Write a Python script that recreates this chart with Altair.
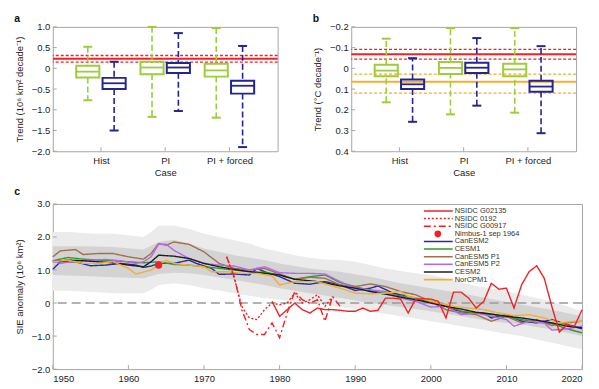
import json
import altair as alt
import pandas as pd

# ---------------- panels a / b : box statistics ----------------
cases = ["Hist", "PI", "PI + forced"]

# panel a: Arctic sea-ice extent trend (10^6 km^2 / decade)
a_g_lo = [-0.77, -1.17, -1.19]
a_g_q1 = [-0.22, -0.14, -0.20]
a_g_med = [-0.08, 0.02, -0.05]
a_g_q3 = [0.06, 0.16, 0.11]
a_g_hi = [0.52, 1.00, 0.97]
a_b_lo = [-1.50, -1.03, -1.90]
a_b_q1 = [-0.50, -0.11, -0.61]
a_b_med = [-0.36, 0.02, -0.42]
a_b_q3 = [-0.23, 0.13, -0.30]
a_b_hi = [0.16, 0.85, 0.54]
a_obs = [0.23]
a_obs_range = [0.15, 0.31]

# panel b: temperature trend (degC / decade), axis reversed
b_g_lo = [-0.143, -0.194, -0.194]
b_g_q1 = [-0.017, -0.030, -0.022]
b_g_med = [0.011, -0.002, 0.005]
b_g_q3 = [0.038, 0.027, 0.038]
b_g_hi = [0.164, 0.222, 0.214]
b_b_lo = [-0.049, -0.146, -0.107]
b_b_q1 = [0.054, -0.027, 0.060]
b_b_med = [0.077, -0.003, 0.088]
b_b_q3 = [0.100, 0.022, 0.113]
b_b_hi = [0.258, 0.180, 0.313]
b_obs_red = [-0.068]
b_obs_red_range = [-0.091, -0.044]
b_obs_orange = [0.065]
b_obs_orange_range = [0.028, 0.120]

# ---------------- panel c : time series ----------------
band_out_years = [1950, 1952, 1954, 1956, 1958, 1960, 1962, 1963, 1964, 1966, 1968, 1970, 1972, 1974, 1976,
                  1978, 1980, 1982, 1984, 1986, 1988, 1990, 1992, 1994, 1996, 1998, 2000, 2002, 2004, 2006,
                  2008, 2010, 2012, 2014, 2016, 2018, 2020]
band_out_hi = [2.15, 2.15, 2.12, 2.1, 2.1, 2.05, 2.0, 2.15, 2.35, 2.35, 2.25, 2.1, 2.0, 1.9, 1.8,
               1.65, 1.55, 1.45, 1.37, 1.32, 1.3, 1.25, 1.15, 1.05, 0.97, 0.9, 0.85, 0.75, 0.62, 0.52,
               0.45, 0.35, 0.25, 0.15, 0.05, -0.1, -0.25]
band_out_lo = [0.38, 0.37, 0.35, 0.33, 0.3, 0.3, 0.3, 0.4, 0.55, 0.6, 0.55, 0.45, 0.38, 0.3, 0.22,
               0.15, 0.1, 0.05, 0.0, -0.05, -0.12, -0.18, -0.25, -0.32, -0.4, -0.47, -0.55, -0.62, -0.7, -0.77,
               -0.85, -0.93, -1.0, -1.1, -1.2, -1.3, -1.4]

band_in_years = [1950, 1954, 1958, 1962, 1964, 1966, 1968, 1970, 1974, 1978, 1980, 1984, 1988, 1992, 1996,
                 2000, 2004, 2008, 2012, 2016, 2020]
band_in_hi = [1.72, 1.72, 1.7, 1.62, 1.85, 1.92, 1.8, 1.65, 1.45, 1.3, 1.2, 1.05, 0.95, 0.8, 0.6,
              0.45, 0.3, 0.12, -0.05, -0.2, -0.4]
band_in_lo = [0.85, 0.82, 0.78, 0.75, 0.88, 0.92, 0.9, 0.85, 0.7, 0.55, 0.45, 0.3, 0.15, 0.0, -0.12,
              -0.25, -0.4, -0.55, -0.65, -0.8, -1.0]

canesm2_years = [1950, 1951, 1953, 1955, 1957, 1959, 1961, 1962, 1963, 1964, 1966, 1968, 1969, 1971, 1972,
                 1974, 1976, 1977, 1978, 1980, 1982, 1984, 1986, 1988, 1990, 1992, 1993, 1995, 1997, 1999,
                 2001, 2003, 2005, 2007, 2008, 2010, 2012, 2014, 2016, 2018, 2020]
canesm2 = [1.02, 1.25, 1.25, 1.13, 1.15, 1.2, 1.15, 1.08, 1.12, 1.2, 1.2, 1.3, 1.2, 1.05, 0.87,
           0.88, 0.85, 1.05, 0.95, 0.8, 0.6, 0.57, 0.65, 0.55, 0.38, 0.45, 0.52, 0.3, 0.2, 0.08,
           0.0, -0.2, -0.3, -0.3, -0.45, -0.35, -0.55, -0.6, -0.5, -0.65, -0.78]

cesm1_years = list(range(1950, 2021, 2))
cesm1 = [1.28, 1.38, 1.33, 1.3, 1.28, 1.25, 1.22, 1.25, 1.17, 1.15, 1.1, 1.05, 1.0, 0.95, 0.93,
         0.85, 0.72, 0.8, 0.85, 0.62, 0.5, 0.38, 0.3, 0.22, 0.15, 0.05, -0.05, -0.25, -0.3, -0.35,
         -0.42, -0.5, -0.58, -0.62, -0.78, -0.9]

canesm5p1_years = [1950, 1951, 1953, 1954, 1956, 1958, 1960, 1962, 1963, 1964, 1965, 1966, 1968, 1970, 1972,
                   1974, 1976, 1978, 1980, 1982, 1984, 1986, 1988, 1990, 1992, 1994, 1996, 1998, 2000, 2002,
                   2004, 2006, 2008, 2010, 2012, 2014, 2016, 2018, 2020]
canesm5p1 = [1.4, 1.58, 1.62, 1.47, 1.5, 1.5, 1.4, 1.33, 1.5, 1.8, 1.75, 1.85, 1.78, 1.55, 1.2,
             1.05, 1.0, 1.05, 0.88, 0.72, 0.78, 0.75, 0.55, 0.5, 0.58, 0.5, 0.35, 0.25, 0.05, -0.2,
             -0.3, -0.35, -0.55, -0.4, -0.6, -0.5, -0.68, -0.6, -0.55]

canesm5p2_years = [1950, 1951, 1953, 1955, 1957, 1959, 1961, 1962, 1963, 1964, 1965, 1966, 1968, 1970, 1972,
                   1974, 1976, 1978, 1980, 1982, 1984, 1986, 1988, 1990, 1992, 1994, 1996, 1998, 2000, 2002,
                   2004, 2006, 2008, 2010, 2011, 2013, 2015, 2016, 2018, 2020]
canesm5p2 = [1.3, 1.2, 1.28, 1.3, 1.32, 1.28, 1.2, 1.25, 1.4, 1.78, 1.78, 1.6, 1.35, 1.2, 1.15,
             1.12, 1.0, 1.1, 0.92, 0.9, 0.9, 0.88, 0.65, 0.45, 0.4, 0.35, 0.15, 0.05, -0.12, -0.1,
             -0.35, -0.3, -0.4, -0.5, -0.7, -0.55, -0.6, -0.82, -0.78, -0.7]

cesm2_years = [1950, 1952, 1954, 1956, 1958, 1960, 1962, 1963, 1964, 1966, 1968, 1970, 1972, 1974, 1976,
               1978, 1980, 1982, 1985, 1988, 1990, 1992, 1994, 1996, 1998, 2000, 2002, 2004, 2006, 2008,
               2010, 2012, 2014, 2016, 2018, 2020]
cesm2 = [1.25, 1.3, 1.28, 1.25, 1.22, 1.15, 1.1, 1.25, 1.45, 1.42, 1.35, 1.2, 1.1, 1.02, 0.95,
         0.9, 0.85, 0.72, 0.65, 0.52, 0.45, 0.35, 0.27, 0.18, 0.1, 0.0, -0.1, -0.18, -0.28, -0.33,
         -0.4, -0.45, -0.52, -0.6, -0.7, -0.75]

norcpm1_years = [1950, 1952, 1954, 1956, 1958, 1960, 1961, 1963, 1964, 1965, 1966, 1968, 1970, 1971, 1973,
                 1975, 1977, 1979, 1980, 1982, 1985, 1988, 1990, 1992, 1994, 1996, 1997, 1999, 2001, 2003,
                 2005, 2007, 2009, 2011, 2013, 2015, 2017, 2019, 2020]
norcpm1 = [1.25, 1.3, 1.2, 1.2, 1.25, 1.05, 0.88, 1.0, 1.15, 1.3, 1.2, 1.15, 1.1, 0.95, 0.95,
           0.9, 0.9, 0.82, 0.55, 0.65, 0.65, 0.45, 0.3, 0.28, 0.3, 0.35, 0.2, 0.12, 0.0, -0.1,
           -0.15, -0.2, -0.3, -0.38, -0.35, -0.45, -0.6, -0.55, -0.55]

g02135_years = list(range(1979, 2021))
g02135 = [0.05, -0.4, -0.2, 0.0, -0.2, -0.3, -0.15, -0.2, -0.2, -0.22, -0.25, -0.25, -0.15, -0.25, -0.22,
          0.15, 0.15, 0.12, -0.3, 0.12, 0.13, 0.12, 0.05, -0.45, 0.33, 0.33, 0.15, -0.15, 0.05, 0.6,
          0.42, 0.45, -0.15, 0.55, 0.95, 1.13, 0.75, -0.1, -0.88, -0.65, -0.7, -0.2]

n0192_years = list(range(1973, 1988))
n0192 = [1.4, 0.75, -0.1, -0.45, -0.5, -0.2, 0.0, -0.05, 0.0, 0.3, 0.0, 0.1, 0.25, -0.1, 0.2]

g00917_years = list(range(1973, 1989))
g00917 = [1.4, 0.8, -0.2, -0.8, -0.95, -0.95, -0.6, -1.05, -0.3, 0.35, 0.1, 0.0, 0.1, -0.55, 0.2, -0.1]

nimbus_year = [1964]
nimbus_value = [1.15]

NIM = "Nimbus-1 sep 1964"
series_names = ["NSIDC G02135", "NSIDC 0192", "NSIDC G00917", NIM,
                "CanESM2", "CESM1", "CanESM5 P1", "CanESM5 P2", "CESM2", "NorCPM1"]

# ---------------- styling ----------------
GREEN = "#9dcc3e"
NAVY = "#25258f"
RED = "#ee2326"
ORANGE = "#f6ae2d"
FRAME = "#a6a6a6"
FONT = "Liberation Sans"
series_colors = [RED, RED, RED, RED, "#2b2b9c", "#2f9a2f", "#a0704c", "#b866ee", "#1e1e1e", "#f6ae2d"]
series_dash = [[1, 0], [2, 2], [7, 3, 2, 3], [1, 0], [1, 0], [1, 0], [1, 0], [1, 0], [1, 0], [1, 0]]

W_AB, H_AB = 226, 125
W_C, H_C = 532, 166


def minus_fmt(dec):
    return ("datum.value == 0 ? '0' : replace(format(datum.value, '.%df'), '-', '\u2212')" % dec)


def box_df(g, b):
    rows = []
    for i, case in enumerate(cases):
        for off, col, st in ((-0.205, GREEN, g), (0.205, NAVY, b)):
            c = i + 1 + off
            rows.append(dict(case=case, xc=c, x0=c - 0.18, x1=c + 0.18, c0=c - 0.07, c1=c + 0.07,
                             lo=st[0][i], q1=st[1][i], med=st[2][i], q3=st[3][i], hi=st[4][i], col=col))
    return pd.DataFrame(rows)


def box_panel(letter, df, ydom, yvals, ytitle, reverse, solid, dotted):
    xs = alt.Scale(domain=[0.25, 3.75], nice=False, zero=False)
    ys = alt.Scale(domain=ydom, nice=False, zero=False, reverse=reverse)
    xaxis = alt.Axis(values=[1, 2, 3], labelExpr=json.dumps(cases) + "[datum.value - 1]",
                     title="Case", titlePadding=3, labelPadding=4)
    yaxis = alt.Axis(values=yvals, labelExpr=minus_fmt(1), title=ytitle, titlePadding=7, labelPadding=3)

    def X(f):
        return alt.X(f, type="quantitative", scale=xs, axis=xaxis)

    def Y(f):
        return alt.Y(f, type="quantitative", scale=ys, axis=yaxis)

    base = alt.Chart(df)
    layers = []
    sdf = pd.DataFrame(solid, columns=["v", "col"])
    ddf = pd.DataFrame(dotted, columns=["v", "col"])
    layers.append(alt.Chart(ddf).mark_rule(strokeWidth=1.3, strokeDash=[3, 2]).encode(
        y=Y("v"), stroke=alt.Stroke("col:N", scale=None)))
    layers.append(alt.Chart(sdf).mark_rule(strokeWidth=2).encode(
        y=Y("v"), stroke=alt.Stroke("col:N", scale=None)))
    st = alt.Stroke("col:N", scale=None)
    layers.append(base.mark_rule(strokeWidth=1.6, strokeDash=[6, 3]).encode(x=X("xc"), y=Y("hi"), y2="q3", stroke=st))
    layers.append(base.mark_rule(strokeWidth=1.6, strokeDash=[6, 3]).encode(x=X("xc"), y=Y("q1"), y2="lo", stroke=st))
    layers.append(base.mark_rect(fillOpacity=0, strokeWidth=2).encode(x=X("x0"), x2="x1", y=Y("q1"), y2="q3", stroke=st))
    layers.append(base.mark_rule(strokeWidth=1.8).encode(x=X("x0"), x2="x1", y=Y("med"), stroke=st))
    layers.append(base.mark_rule(strokeWidth=2).encode(x=X("c0"), x2="c1", y=Y("hi"), stroke=st))
    layers.append(base.mark_rule(strokeWidth=2).encode(x=X("c0"), x2="c1", y=Y("lo"), stroke=st))
    # inward ticks
    layers.append(alt.Chart(pd.DataFrame({"v": yvals})).mark_rule(color=FRAME).encode(
        y=Y("v"), x=alt.value(0), x2=alt.value(4)))
    layers.append(alt.Chart(pd.DataFrame({"v": [1, 2, 3]})).mark_rule(color=FRAME).encode(
        x=X("v"), y=alt.value(H_AB), y2=alt.value(H_AB - 4)))
    return alt.layer(*layers).properties(
        width=W_AB, height=H_AB,
        title=alt.Title(letter, anchor="start", frame="bounds", offset=-3))


dfa = box_df([a_g_lo, a_g_q1, a_g_med, a_g_q3, a_g_hi], [a_b_lo, a_b_q1, a_b_med, a_b_q3, a_b_hi])
dfb = box_df([b_g_lo, b_g_q1, b_g_med, b_g_q3, b_g_hi], [b_b_lo, b_b_q1, b_b_med, b_b_q3, b_b_hi])

panel_a = box_panel("a", dfa, [-2.0, 1.0], [1.0, 0.5, 0, -0.5, -1.0, -1.5, -2.0],
                    "Trend (10\u2076 km\u00b2 decade\u207b\u00b9)", False,
                    [(v, RED) for v in a_obs], [(v, RED) for v in a_obs_range])
panel_b = box_panel("b", dfb, [-0.2, 0.4], [-0.2, -0.1, 0, 0.1, 0.2, 0.3, 0.4],
                    "Trend (\u00b0C decade\u207b\u00b9)", True,
                    [(v, RED) for v in b_obs_red] + [(v, ORANGE) for v in b_obs_orange],
                    [(v, RED) for v in b_obs_red_range] + [(v, ORANGE) for v in b_obs_orange_range])

# ---------------- panel c ----------------
def long(name, years, vals):
    return pd.DataFrame({"year": years, "value": vals, "series": name})

models = pd.concat([
    long("CanESM2", canesm2_years, canesm2),
    long("CESM1", cesm1_years, cesm1),
    long("CanESM5 P1", canesm5p1_years, canesm5p1),
    long("CanESM5 P2", canesm5p2_years, canesm5p2),
    long("CESM2", cesm2_years, cesm2),
    long("NorCPM1", norcpm1_years, norcpm1),
])
obs = pd.concat([
    long("NSIDC 0192", n0192_years, n0192),
    long("NSIDC G00917", g00917_years, g00917),
    long("NSIDC G02135", g02135_years, g02135),
])

xs_c = alt.Scale(domain=[1950, 2020], nice=False, zero=False)
ys_c = alt.Scale(domain=[-2, 3], nice=False, zero=False)
xvals_c = [1950, 1960, 1970, 1980, 1990, 2000, 2010, 2020]
yvals_c = [-2, -1, 0, 1, 2, 3]
xaxis_c = alt.Axis(values=xvals_c, format="d", title=None, labelPadding=4)
yaxis_c = alt.Axis(values=yvals_c, labelExpr=minus_fmt(1), title="SIE anomaly (10\u2076 km\u00b2)",
                   titlePadding=7, labelPadding=3)


def XC(f):
    return alt.X(f, type="quantitative", scale=xs_c, axis=xaxis_c)


def YC(f):
    return alt.Y(f, type="quantitative", scale=ys_c, axis=yaxis_c)


color_c = alt.Color("series:N", scale=alt.Scale(domain=series_names, range=series_colors), legend=None)
dash_c = alt.StrokeDash("series:N", scale=alt.Scale(domain=series_names, range=series_dash), legend=None)

band_out = pd.DataFrame({"year": band_out_years, "lo": band_out_lo, "hi": band_out_hi})
band_in = pd.DataFrame({"year": band_in_years, "lo": band_in_lo, "hi": band_in_hi})

c_main = alt.layer(
    alt.Chart(band_out).mark_area(color="#ebebeb").encode(x=XC("year"), y=YC("lo"), y2="hi"),
    alt.Chart(band_in).mark_area(color="#d3d3d3").encode(x=XC("year"), y=YC("lo"), y2="hi"),
    alt.Chart(pd.DataFrame({"v": [0]})).mark_rule(color="#9a9a9a", strokeWidth=1.5, strokeDash=[9, 5]).encode(y=YC("v")),
    alt.Chart(models).mark_line(strokeWidth=1.4).encode(x=XC("year"), y=YC("value"), color=color_c, strokeDash=dash_c),
    alt.Chart(obs).mark_line(strokeWidth=1.4).encode(x=XC("year"), y=YC("value"), color=color_c, strokeDash=dash_c),
    alt.Chart(pd.DataFrame({"year": nimbus_year, "value": nimbus_value})).mark_circle(size=55, opacity=1, color=RED).encode(
        x=XC("year"), y=YC("value")),
    alt.Chart(pd.DataFrame({"v": yvals_c})).mark_rule(color=FRAME).encode(y=YC("v"), x=alt.value(0), x2=alt.value(4)),
    alt.Chart(pd.DataFrame({"v": xvals_c})).mark_rule(color=FRAME).encode(x=XC("v"), y=alt.value(H_C), y2=alt.value(H_C - 4)),
)

# in-plot legend (key entries placed through a point scale)
leg_df = pd.DataFrame({"series": series_names})
leg_y = alt.Y("series:N", scale=alt.Scale(type="point", domain=series_names, range=[7, 76], padding=0), axis=None)
leg_lines = alt.Chart(leg_df).transform_filter(alt.datum.series != NIM).mark_rule(strokeWidth=1.6).encode(
    y=leg_y, x=alt.value(373), x2=alt.value(402), color=color_c, strokeDash=dash_c)
leg_dot = alt.Chart(leg_df).transform_filter(alt.datum.series == NIM).mark_circle(size=45, opacity=1, color=RED).encode(
    y=leg_y, x=alt.value(387))
leg_text = alt.Chart(leg_df).mark_text(align="left", baseline="middle", fontSize=7.5, font=FONT, color="#333").encode(
    y=leg_y, x=alt.value(404), text="series:N")
c_legend = alt.layer(leg_lines, leg_dot, leg_text)

panel_c = alt.layer(c_main, c_legend).resolve_scale(y="independent").properties(
    width=W_C, height=H_C, title=alt.Title("c", anchor="start", frame="bounds", offset=2))

top = alt.hconcat(panel_a, panel_b, spacing=32)
chart = alt.vconcat(top, panel_c, spacing=8).configure(
    font=FONT
).configure_view(stroke=FRAME, strokeWidth=1).configure_axis(
    domain=False, ticks=False, grid=False, labelFont=FONT, titleFont=FONT, labelFontSize=9.5,
    titleFontSize=9.5, labelColor="#222", titleColor="#222", titleFontWeight="normal"
).configure_title(font=FONT, fontSize=10.5, fontWeight="bold", color="#111")

chart.save("out.html", embed_options={"renderer": "svg", "actions": False})
